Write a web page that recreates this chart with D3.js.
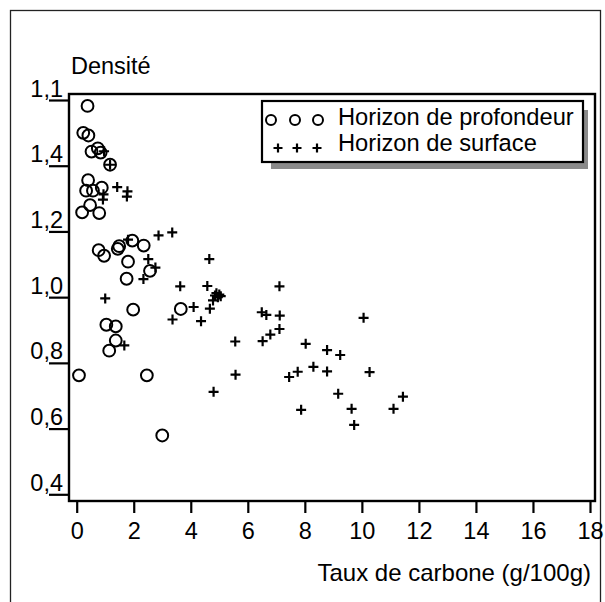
<!doctype html>
<meta charset="utf-8">
<script src="https://d3js.org/d3.v7.min.js"></script>
<style>
body { margin:0; background:#fff; }
text { font-family: "Liberation Sans", Arial, Helvetica, sans-serif; fill:#000; }
</style>
<body>
</body>
<script>

// horizon de profondeur (circles)
var deepX = [0.38,0.23,0.41,0.52,0.74,0.84,1.17,0.40,0.33,0.57,0.88,0.47,0.19,0.79,
             0.77,0.96,1.44,1.49,1.95,2.35,1.80,2.57,1.75,1.98,3.65,1.04,1.37,1.37,1.14,0.08,2.46,3.00];
var deepY = [1.582,1.500,1.492,1.443,1.453,1.440,1.403,1.356,1.324,1.324,1.333,1.280,1.258,1.256,
             1.143,1.126,1.147,1.155,1.172,1.157,1.108,1.080,1.056,0.962,0.964,0.916,0.911,0.868,0.837,0.762,0.762,0.579];

// horizon de surface (crosses)
var surfX = [0.96,1.17,1.42,1.78,1.76,0.94,0.92,2.87,3.35,1.80,2.51,2.76,2.34,1.00,1.67,
             3.63,4.10,3.36,4.36,4.65,4.58,4.85,4.90,4.95,5.00,5.05,4.78,4.67,
             7.11,6.49,6.65,7.12,7.11,6.79,6.52,5.56,5.57,4.80,8.03,8.78,9.24,
             7.45,7.75,8.30,8.78,7.87,10.06,10.27,9.17,9.64,9.73,11.11,11.44];
var surfY = [1.444,1.403,1.335,1.322,1.306,1.313,1.297,1.188,1.197,1.175,1.116,1.090,1.055,0.996,0.853,
             1.033,0.970,0.932,0.927,1.116,1.034,1.005,1.012,1.000,1.008,1.003,0.990,0.965,
             1.033,0.954,0.946,0.944,0.903,0.886,0.866,0.865,0.764,0.712,0.858,0.839,0.824,
             0.757,0.773,0.788,0.774,0.657,0.937,0.772,0.706,0.660,0.611,0.660,0.697];

var xTicks = [0,2,4,6,8,10,12,14,16,18];
var yTicks = [1.6,1.4,1.2,1.0,0.8,0.6,0.4];
var yTickLabels = ["1,1","1,4","1,2","1,0","0,8","0,6","0,4"];

var legendNames = ["Horizon de profondeur","Horizon de surface"];

var svg = d3.select("body").append("svg").attr("width",605).attr("height",602);

// outer border
svg.append("rect").attr("x",10.5).attr("y",10.5).attr("width",590).attr("height",600)
    .attr("fill","none").attr("stroke","#222").attr("stroke-width",1.3);

var x = d3.scaleLinear().domain([0,18]).range([76.7,590]);
var y = d3.scaleLinear().domain([0.4,1.6]).range([494.3,100]);

var fLeft = 69, fRight = 595, fTop = 94, fBottom = 501;

// frame
svg.append("rect").attr("x",fLeft).attr("y",fTop).attr("width",fRight-fLeft).attr("height",fBottom-fTop)
    .attr("fill","none").attr("stroke","#000").attr("stroke-width",2.4);

// x axis
var xAxis = svg.append("g").attr("transform","translate(0,"+fBottom+")")
    .call(d3.axisBottom(x).tickValues(xTicks).tickSize(12).tickPadding(14).tickFormat(d3.format("d")));
xAxis.select(".domain").remove();
xAxis.selectAll("line").attr("stroke","#000").attr("stroke-width",2.2);
xAxis.selectAll("text").attr("font-size",23.5).attr("font-family","Liberation Sans, Arial, sans-serif")
    .attr("y",null).attr("dy",null).attr("transform","translate(0,38)");

// y axis
var yAxis = svg.append("g").attr("transform","translate("+fLeft+",0)")
    .call(d3.axisLeft(y).tickValues(yTicks).tickSize(20)
        .tickFormat(function(d,i){ return yTickLabels[i]; }));
yAxis.select(".domain").remove();
yAxis.selectAll("line").attr("stroke","#000").attr("stroke-width",2.2);
yAxis.selectAll("text").attr("font-size",23.5).attr("font-family","Liberation Sans, Arial, sans-serif")
    .attr("x",-6).attr("dy",-4).attr("text-anchor","end");

// axis titles
svg.append("text").attr("x",71).attr("y",74).attr("font-size",23.5).text("Densité");
svg.append("text").attr("x",591).attr("y",581).attr("font-size",24).attr("text-anchor","end")
    .text("Taux de carbone (g/100g)");

// points
svg.append("g").selectAll("circle").data(deepX).enter().append("circle")
    .attr("cx",function(d){ return x(d); })
    .attr("cy",function(d,i){ return y(deepY[i]); })
    .attr("r",5.9).attr("fill","none").attr("stroke","#000").attr("stroke-width",2);

function plus(g, cx, cy, h, w){
    g.append("path").attr("d","M"+(cx-h)+","+cy+"H"+(cx+h)+"M"+cx+","+(cy-h)+"V"+(cy+h))
        .attr("stroke","#000").attr("stroke-width",w).attr("fill","none");
}
var pg = svg.append("g");
surfX.forEach(function(d,i){ plus(pg, x(d), y(surfY[i]), 5, 2.2); });

// legend
svg.append("rect").attr("x",271).attr("y",110).attr("width",317).attr("height",59).attr("fill","#8a8a8a");
svg.append("rect").attr("x",262).attr("y",101).attr("width",321).attr("height",61)
    .attr("fill","#fff").attr("stroke","#000").attr("stroke-width",2.2);
[271,295,318].forEach(function(cx){
    svg.append("circle").attr("cx",cx).attr("cy",120).attr("r",5).attr("fill","none")
        .attr("stroke","#000").attr("stroke-width",2);
});
[278,297,317].forEach(function(cx){ plus(svg, cx, 148, 4.5, 2.2); });
svg.append("text").attr("x",338).attr("y",125).attr("font-size",23.7).text(legendNames[0]);
svg.append("text").attr("x",338).attr("y",151).attr("font-size",23.7).text(legendNames[1]);

</script>
